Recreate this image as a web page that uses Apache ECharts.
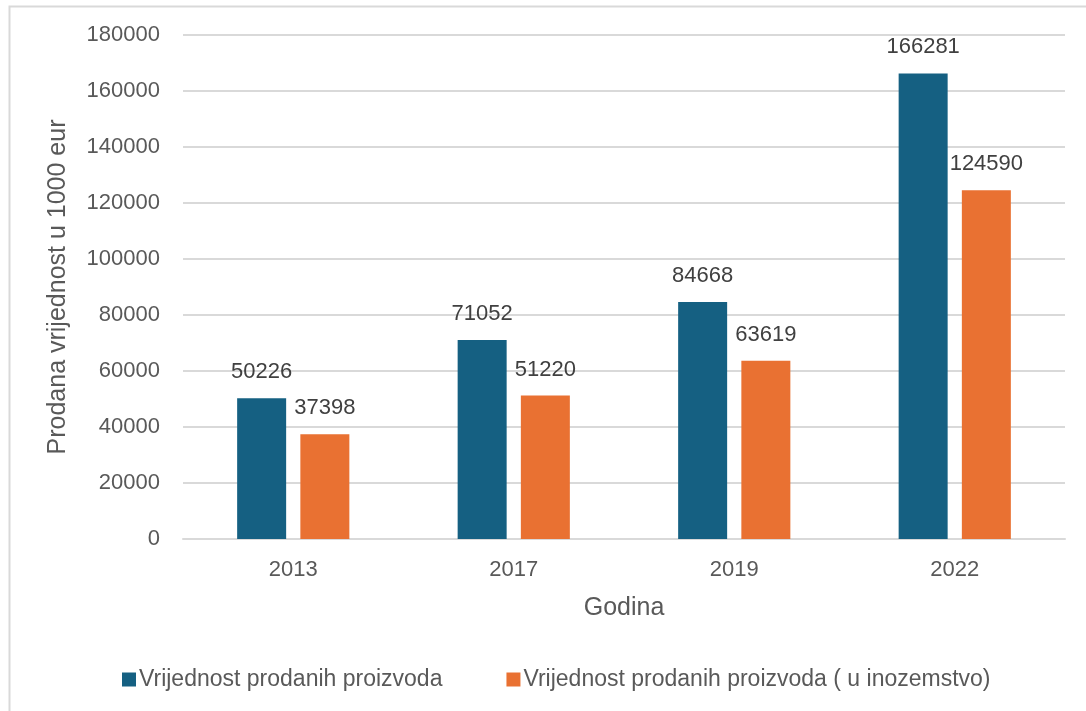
<!DOCTYPE html>
<html>
<head>
<meta charset="utf-8">
<script src="https://cdn.jsdelivr.net/npm/echarts@6/dist/echarts.min.js"></script>
<style>
  html, body { margin: 0; padding: 0; background: #fff; }
  #main { width: 1086px; height: 711px; }
</style>
</head>
<body>
<div id="main"></div>
<script>
// godine i vrijednosti (u 1000 eur)
const years = ['2013', '2017', '2019', '2022'];
const ukupno = [50226, 71052, 84668, 166281];
const inozemstvo = [37398, 51220, 63619, 124590];
const seriesNames = ['Vrijednost prodanih proizvoda', 'Vrijednost prodanih proizvoda ( u inozemstvo)'];

const textColor = '#595959';
const font = 'Liberation Sans, Arial, sans-serif';

const chart = echarts.init(document.getElementById('main'));

const label = {
  show: true,
  position: 'top',
  distance: 15,
  color: '#404040',
  fontSize: 22,
  fontFamily: font
};

chart.setOption({
  animation: false,
  textStyle: { fontFamily: font },
  graphic: [{
    type: 'rect',
    shape: { x: 9.5, y: 6.5, width: 1200, height: 800 },
    style: { fill: 'none', stroke: '#d9d9d9', lineWidth: 2 },
    silent: true
  }],
  grid: { left: 183, right: 21, top: 35, bottom: 172 },
  legend: {
    bottom: 15,
    left: 117,
    itemWidth: 14,
    itemHeight: 14,
    itemGap: 64,
    icon: 'rect',
    textStyle: { color: textColor, fontSize: 23, fontFamily: font, padding: [0, 0, 0, -2] },
    data: seriesNames
  },
  xAxis: {
    type: 'category',
    data: years,
    name: 'Godina',
    nameLocation: 'middle',
    nameGap: 57,
    nameTextStyle: { color: textColor, fontSize: 25, fontFamily: font, verticalAlign: 'top' },
    axisLine: { lineStyle: { color: '#d9d9d9', width: 2 } },
    axisTick: { show: false },
    axisLabel: { color: textColor, fontSize: 22, fontFamily: font, margin: 20 }
  },
  yAxis: {
    type: 'value',
    min: 0,
    max: 180000,
    interval: 20000,
    name: 'Prodana vrijednost u 1000 eur',
    nameLocation: 'middle',
    nameGap: 112,
    nameRotate: 90,
    nameTextStyle: { color: textColor, fontSize: 25, fontFamily: font },
    axisLine: { show: false },
    axisTick: { show: false },
    splitLine: { lineStyle: { color: '#d9d9d9', width: 2 } },
    axisLabel: {
      color: textColor, fontSize: 22, fontFamily: font, margin: 23,
      formatter: (v) => String(v)
    }
  },
  series: [
    {
      name: seriesNames[0],
      type: 'bar',
      data: ukupno,
      barWidth: 49,
      barGap: '29%',
      itemStyle: { color: '#156082' },
      label: label
    },
    {
      name: seriesNames[1],
      type: 'bar',
      data: inozemstvo,
      barWidth: 49,
      itemStyle: { color: '#e97132' },
      label: label
    }
  ]
});
</script>
</body>
</html>
